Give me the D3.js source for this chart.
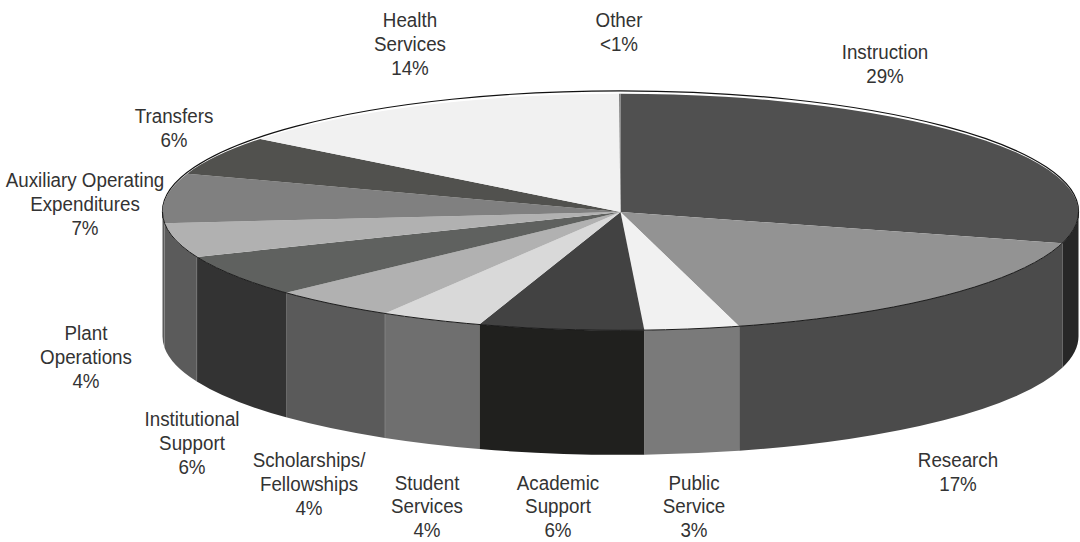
<!DOCTYPE html>
<html>
<head>
<meta charset="utf-8">
<script src="https://cdn.jsdelivr.net/npm/d3@7"></script>
<style>
    html, body { margin: 0; padding: 0; background: #fff; }
    text { font-family: "Liberation Sans", sans-serif; font-size: 21px; fill: #333; }
</style>
</head>
<body>
<div id="chart"></div>
<script>
var categories = ["Instruction", "Research", "Public Service", "Academic Support", "Student Services",
    "Scholarships/Fellowships", "Institutional Support", "Plant Operations",
    "Auxiliary Operating Expenditures", "Transfers", "Health Services", "Other"];
// shares, the printed labels are rounded
var shares = [29.25, 16.58, 3.34, 5.82, 3.61, 4.43, 5.77, 4.7, 6.75, 5.35, 14.35, 0.05];
var topColors = ["#505050", "#939393", "#f1f1f1", "#424242", "#d9d9d9", "#b1b1b1",
    "#5f615f", "#b1b1b1", "#808080", "#51514e", "#f1f1f1", "#777777"];
var wallColors = ["#272727", "#4b4b4b", "#7a7a7a", "#20201e", "#6f6f6f", "#5a5a5a",
    "#333333", "#5b5b5b", "#5b5b5b", "#333333", "#555555", "#555555"];
var labelLines = [["Instruction", "29%"], ["Research", "17%"], ["Public", "Service", "3%"],
    ["Academic", "Support", "6%"], ["Student", "Services", "4%"], ["Scholarships/", "Fellowships", "4%"],
    ["Institutional", "Support", "6%"], ["Plant", "Operations", "4%"],
    ["Auxiliary Operating", "Expenditures", "7%"], ["Transfers", "6%"],
    ["Health", "Services", "14%"], ["Other", "<1%"]];
// hand placed in the original, so [center x, first baseline]
var labelSpots = [[885, 59], [958, 467], [694, 489.5], [558, 489.5], [427, 489.5], [309, 467],
    [192, 426], [86, 340], [85, 187], [174, 123], [410, 27], [619, 27]];

var width = 1080, height = 542;
var cx = 620.5, cy = 212, rx = 458, ry = 118.3, depth = 124.5;
var lineGap = 24;
var textSqueeze = 0.895; // the original type is a condensed face

var svg = d3.select("#chart").append("svg")
    .attr("width", width)
    .attr("height", height);

var pie = d3.pie().sort(null).value(function (d) { return d; });
var slices = pie(shares);

function px(a) { return cx + rx * Math.sin(a); }
function py(a) { return cy - ry * Math.cos(a); }

// Side wall, only the front half of the ellipse is visible
var wallFrom = Math.PI / 2, wallTo = Math.PI * 3 / 2;
var wall = svg.append("g").attr("class", "walls");
slices.forEach(function (d, i) {
    var a0 = Math.max(d.startAngle, wallFrom);
    var a1 = Math.min(d.endAngle, wallTo);
    if (a1 <= a0) return;
    var arcTo = "A" + rx + "," + ry + " 0 0 ";
    var p = "M" + px(a0) + "," + py(a0) +
        arcTo + "1 " + px(a1) + "," + py(a1) +
        "L" + px(a1) + "," + (py(a1) + depth) +
        arcTo + "0 " + px(a0) + "," + (py(a0) + depth) + "Z";
    wall.append("path").attr("d", p).attr("fill", wallColors[i]);
    // faint seam between the wall pieces
    if (a1 < wallTo) {
        wall.append("line")
            .attr("x1", px(a1)).attr("x2", px(a1))
            .attr("y1", py(a1)).attr("y2", py(a1) + depth)
            .attr("stroke", "#fff")
            .attr("stroke-opacity", 0.22)
            .attr("stroke-width", 0.8);
    }
});

// Back rim: thin dark line sitting just above the face with a white gap
svg.append("clipPath").attr("id", "backClip")
    .append("rect")
    .attr("x", 0).attr("y", 0)
    .attr("width", width).attr("height", cy + 6);
svg.append("ellipse")
    .attr("cx", cx).attr("cy", cy - 0.5)
    .attr("rx", rx).attr("ry", ry + 2.4)
    .attr("fill", "#fff")
    .attr("stroke", "#111")
    .attr("stroke-width", 1.2)
    .attr("clip-path", "url(#backClip)");

// Top face, a flat d3 pie squashed into an ellipse
var arc = d3.arc().innerRadius(0).outerRadius(rx);
svg.append("g")
    .attr("transform", "translate(" + cx + "," + cy + ") scale(1," + (ry / rx) + ")")
    .selectAll("path")
    .data(slices)
    .enter()
    .append("path")
    .attr("d", arc)
    .attr("fill", function (d, i) { return topColors[i]; });

// Dark edge along the front of the face
svg.append("path")
    .attr("d", "M" + (cx + rx) + "," + cy + "A" + rx + "," + ry + " 0 0 1 " + (cx - rx) + "," + cy)
    .attr("fill", "none")
    .attr("stroke", "#1a1a1a")
    .attr("stroke-width", 1);

// Labels
categories.forEach(function (name, i) {
    var t = svg.append("text")
        .attr("class", "label")
        .attr("text-anchor", "middle")
        .attr("transform", "translate(" + labelSpots[i][0] + "," + labelSpots[i][1] + ") scale(" + textSqueeze + ",1)");
    labelLines[i].forEach(function (line, j) {
        t.append("tspan")
            .attr("x", 0)
            .attr("y", j * lineGap)
            .text(line);
    });
});
</script>
</body>
</html>
